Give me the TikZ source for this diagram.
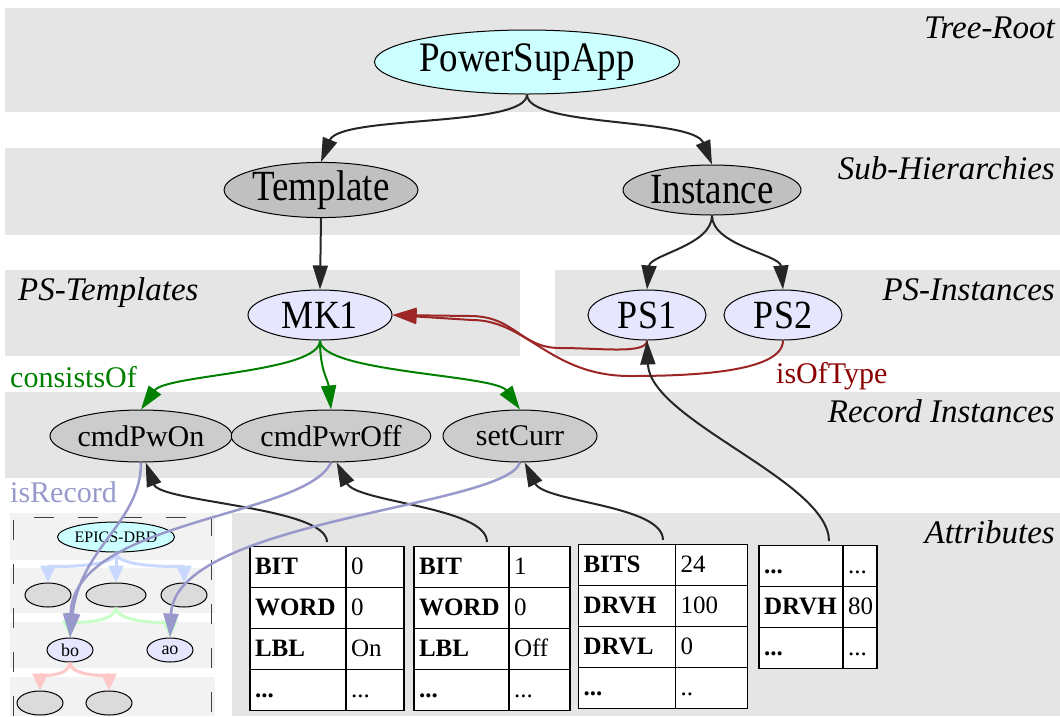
\documentclass[tikz,border=0pt]{standalone}
\usepackage{fontspec}
\setmainfont{Liberation Serif}
\usetikzlibrary{shapes.geometric,arrows.meta,matrix}

\definecolor{bandgray}{RGB}{229,229,229}
\definecolor{insetgray}{RGB}{242,242,242}
\definecolor{rootcyan}{RGB}{204,255,255}
\definecolor{hiergray}{RGB}{192,192,192}
\definecolor{pslav}{RGB}{230,230,255}
\definecolor{recgray}{RGB}{204,204,204}
\definecolor{cgreen}{RGB}{0,128,0}
\definecolor{cdred}{RGB}{139,0,0}
\definecolor{clav}{RGB}{153,153,204}
\definecolor{iblue}{RGB}{200,216,255}
\definecolor{igreen}{RGB}{200,255,200}
\definecolor{ipink}{RGB}{255,200,200}

\newcommand{\fsz}[1]{\fontsize{#1}{#1}\selectfont}
\newcommand{\narrow}[2][0.86]{\scalebox{#1}[1]{#2}}

\tikzset{band/.style={fill=bandgray},
         insetband/.style={fill=insetgray},
         bandlbl/.style={font=\fsz{33}\itshape,inner sep=0},
         edgelbl/.style={font=\fsz{30},inner sep=0,anchor=base west}}
\tikzset{gv/.style={ellipse,draw,line width=1pt,inner sep=0},
         rootnode/.style={gv,fill=rootcyan,minimum width=280,minimum height=64,font=\fsz{42}},
         hiernode/.style={gv,fill=hiergray,minimum width=178,minimum height=50,font=\fsz{43}},
         psnode/.style={gv,fill=pslav,minimum height=50,font=\fsz{40}},
         recnode/.style={gv,fill=recgray,minimum height=52,font=\fsz{30}},
         mini/.style={gv,minimum width=46,minimum height=24,fill=recgray!70,font=\fsz{18}}}
\tikzset{gvedge/.style={-{Triangle[length=24pt,width=15pt]},line width=2pt,black!85},
         consist/.style={gvedge,cgreen},
         oftype/.style={gvedge,cdred!85!white},
         isrec/.style={gvedge,clav,line width=2.5pt},
         inedge/.style={-{Triangle[length=17pt,width=15pt]},line width=3pt}}
\tikzset{attr/.style={matrix of nodes,row sep=-1.5pt,column sep=-1.5pt,matrix anchor=north,
           nodes={draw,line width=1.5pt,fill=white,inner xsep=5pt,inner ysep=9.5pt,
                  text height=19pt,text depth=3pt,align=left,font=\fsz{25}},
           column 1/.append style={nodes={font=\fsz{25}\bfseries}}},
         attrw/.style 2 args={column 1/.append style={nodes={text width=#1}},
                              column 2/.append style={nodes={text width=#2}}}}

\begin{document}
\begin{tikzpicture}[x=1pt,y=-1pt]
  \useasboundingbox (0,0) rectangle (1060,716);
  % rank bands
  \foreach \ya/\yb in {8/112,148/235,392/478}
    \fill[band] (5,\ya) rectangle (1060,\yb);
  \fill[band] (5,270) rectangle (520,356);
  \fill[band] (555,270) rectangle (1060,356);
  \fill[band] (232,513) rectangle (1060,716);
  \node[bandlbl,anchor=base east] (lroot) at (1055,38) {Tree-Root};
  \node[bandlbl,anchor=base east] (lsub) at (1055,179) {Sub-Hierarchies};
  \node[bandlbl,anchor=base west] (ltpl) at (18,300) {PS-Templates};
  \node[bandlbl,anchor=base east] (lins) at (1055,300) {PS-Instances};
  \node[bandlbl,anchor=base east] (lrec) at (1055,422) {Record Instances};
  \node[bandlbl,anchor=base east] (lattr) at (1055,543) {Attributes};

  % EPICS record hierarchy (inset)
  \foreach \ya/\yb in {513/560,568/613,622/668,677/716}
    \fill[insetband] (10,\ya) rectangle (215,\yb);
  \draw[black!75,line width=1pt,dash pattern=on 20pt off 24pt] (13,716) -- (13,517) -- (211,517) -- (211,716);
  \node[gv,fill=rootcyan,minimum width=106,minimum height=30,font=\fsz{16}] (dbd) at (116,537) {EPICS-DBD};
  \node[mini] (e1) at (48,595) {};
  \node[mini,minimum width=60] (e2) at (116,595) {};
  \node[mini] (e3) at (184,595) {};
  \node[mini,fill=pslav] (bo) at (70,650) {bo};
  \node[mini,fill=pslav] (ao) at (170,650) {ao};
  \node[mini] (f1) at (40,703) {};
  \node[mini] (f2) at (109,703) {};
  \foreach \t in {e1,e2,e3}
    \draw[inedge,iblue] (dbd.south) .. controls +(0,16) and +(0,-16) .. (\t.north);
  \foreach \t in {bo,ao}
    \draw[inedge,igreen] (e2.south) .. controls +(0,16) and +(0,-14) .. (\t.north);
  \foreach \t in {f1,f2}
    \draw[inedge,ipink] (bo.south) .. controls +(0,14) and +(0,-14) .. (\t.north);

  % graph nodes
  \node[rootnode] (root) at (527,62) {\narrow[0.88]{PowerSupApp}};
  \node[hiernode] (tmpl) at (321,190) {\narrow{Template}};
  \node[hiernode] (inst) at (712,190) {\narrow{Instance}};
  \node[psnode,minimum width=144] (mk1) at (320,315) {\narrow[0.9]{MK1}};
  \node[psnode,minimum width=118] (ps1) at (647,315) {\narrow[0.9]{PS1}};
  \node[psnode,minimum width=118] (ps2) at (783,315) {\narrow[0.9]{PS2}};
  \node[recnode,minimum width=182] (c1) at (141,436) {cmdPwOn};
  \node[recnode,minimum width=190] (c2) at (331,436) {cmdPwrOff};
  \node[recnode,minimum width=154] (c3) at (520,436) {setCurr};

  % attribute tables
  \matrix (t1) [attr,attrw={86pt}{48pt}] at (327,542) {
    BIT & 0 \\ WORD & 0 \\ LBL & On \\ ... & ... \\ };
  \matrix (t2) [attr,attrw={85pt}{51pt}] at (492,542) {
    BIT & 1 \\ WORD & 0 \\ LBL & Off \\ ... & ... \\ };
  \matrix (t3) [attr,attrw={87pt}{62pt}] at (663,540) {
    BITS & 24 \\ DRVH & 100 \\ DRVL & 0 \\ ... & .. \\ };
  \matrix (t4) [attr,attrw={74pt}{24pt}] at (818,541) {
    ... & ... \\ DRVH & 80 \\ ... & ... \\ };

  % hierarchy edges
  \draw[gvedge] (root.south) .. controls +(0,33) and +(19,-47) .. (tmpl.north);
  \draw[gvedge] (root.south) .. controls +(0,33) and +(-19,-47) .. (inst.north);
  \draw[gvedge] (tmpl.south) -- (mk1.north);
  \draw[gvedge] (inst.south) .. controls +(0,30) and +(3,-35) .. (ps1.north);
  \draw[gvedge] (inst.south) .. controls +(0,30) and +(-3,-35) .. (ps2.north);
  \draw[consist] (mk1.south) .. controls +(0,32) and +(25,-35) .. (c1.north);
  \draw[consist] (mk1.south) .. controls +(0,30) and +(-3,-30) .. (c2.north);
  \draw[consist] (mk1.south) .. controls +(0,32) and +(-25,-35) .. (c3.north);
  \node[edgelbl,cgreen] (lcons) at (10,387) {consistsOf};

  % isOfType
  \draw[oftype] (ps1.south) .. controls +(0,14) and +(40,0) .. (560,348)
                .. controls +(-40,0) and +(45,0) .. (470,316) -- (mk1.east);
  \draw[oftype] (ps2.south) .. controls +(0,32) and +(60,0) .. (630,376)
                .. controls +(-80,0) and +(55,0) .. (472,320) -- (mk1.east);
  \node[edgelbl,cdred] (ltype) at (776,383) {isOfType};

  % attributes -> records
  \draw[gvedge] (t1.north) .. controls +(0,-35) and +(15,40) .. (c1.-80);
  \draw[gvedge] ([xshift=-5pt]t2.north) .. controls +(0,-35) and +(20,40) .. (c2.-78);
  \draw[gvedge] (t3.north) .. controls +(0,-35) and +(20,40) .. (c3.-80);
  \draw[gvedge] ([xshift=11pt]t4.north) .. controls +(0,-60) and +(3,80) .. (ps1.south);

  % isRecord
  \draw[isrec] (c1.south) .. controls +(0,60) and +(10,-90) .. (bo.north);
  \draw[isrec] (c2.south) .. controls +(-25,55) and +(3,-118) .. (bo.north);
  \draw[isrec] (c3.south) .. controls +(-15,45) and +(5,-118) .. (ao.north);
  \node[edgelbl,clav] (lrecd) at (10,502) {isRecord};
\end{tikzpicture}
\end{document}
